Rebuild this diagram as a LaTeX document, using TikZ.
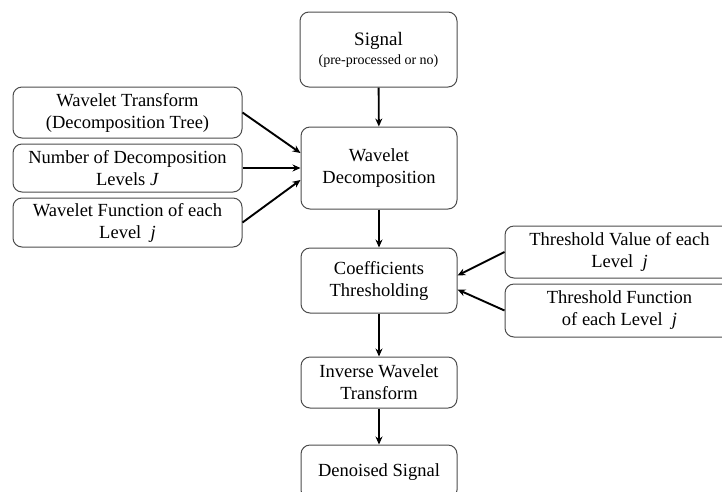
\documentclass[tikz,border=0pt]{standalone}
\usepackage{fontspec}
\setmainfont{Liberation Serif}
\newfontfamily\boxfont{Liberation Serif}
\usetikzlibrary{arrows.meta}
\begin{document}
\begin{tikzpicture}[x=1pt, y=-1pt,
  box/.style={rectangle, draw=black!70, line width=1pt, rounded corners=9pt,
    align=center, inner sep=0pt, font=\boxfont\fontsize{18.5}{22}\selectfont},
  side/.style={box, minimum width=229pt},
  mid/.style={box, minimum width=156pt},
  link/.style={-{Stealth[length=8pt, width=7pt]}, line width=1.9pt}]
  \useasboundingbox (0,0) rectangle (722,491);
  % Nodes
  \node (sig) [mid, minimum width=157pt, minimum height=75pt] at (378.5, 49.5)
    {\fontsize{19}{17}\selectfont Signal\\[-3pt]{\fontsize{14}{16}\selectfont (pre-processed or no)}};
  \node (wd) [mid, minimum height=82pt] at (379, 168) {Wavelet\\Decomposition};
  \node (ct) [mid, minimum height=65pt] at (379, 280.5) {Coefficients\\Thresholding};
  \node (iw) [mid, minimum height=51pt] at (379, 382.5) {Inverse Wavelet\\Transform};
  \node (ds) [mid, minimum height=54pt] at (379, 472) {Denoised Signal};
  \node (tr) [side, minimum height=51pt] at (127.5, 112.5) {Wavelet Transform\\(Decomposition Tree)};
  \node (lv) [side, minimum height=48pt] at (127.5, 168) {Number of Decomposition\\Levels \textit{J}};
  \node (fn) [side, minimum height=49pt] at (127.5, 222.5) {Wavelet Function of each\\Level \ \textit{j}};
  \node (tv) [side, minimum height=52pt] at (619.5, 252) {Threshold Value of each\\Level \ \textit{j}};
  \node (tf) [side, minimum height=53pt] at (619.5, 310.5) {Threshold Function\\of each Level \ \textit{j}};
  % Arrows
  \draw[link] (sig) -- (wd);
  \draw[link] (wd) -- (ct);
  \draw[link] (ct) -- (iw);
  \draw[link] (iw) -- (ds);
  \draw[link] (tr.east) -- ([yshift=15pt]wd.west);
  \draw[link] (lv.east) -- (wd.west);
  \draw[link] (fn.east) -- ([yshift=-12pt]wd.west);
  \draw[link] (tv.west) -- ([yshift=5pt]ct.east);
  \draw[link] (tf.west) -- ([yshift=-9pt]ct.east);
\end{tikzpicture}
\end{document}
